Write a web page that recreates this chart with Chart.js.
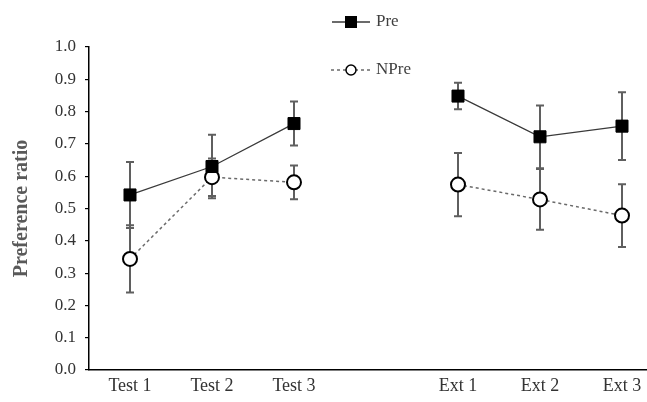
<!DOCTYPE html>
<html>
<head>
<meta charset="utf-8">
<script src="https://cdn.jsdelivr.net/npm/chart.js@4/dist/chart.umd.min.js"></script>
<style>
  html, body { margin: 0; padding: 0; background: #fff; overflow: hidden; }
  #wrap { width: 700px; height: 402px; position: relative; }
</style>
</head>
<body>
<div id="wrap"><canvas id="chart"></canvas></div>
<script>
// データ (空欄はテストと消去の間の区切り)
const categories = ['Test 1', 'Test 2', 'Test 3', '', 'Ext 1', 'Ext 2', 'Ext 3'];
const preValues = [0.542, 0.630, 0.763, null, 0.848, 0.722, 0.755];
const preErrors = [0.102, 0.098, 0.068, null, 0.041, 0.097, 0.105];
const npreValues = [0.344, 0.597, 0.581, null, 0.574, 0.528, 0.478];
const npreErrors = [0.104, 0.058, 0.052, null, 0.098, 0.094, 0.097];
const seriesNames = ['Pre', 'NPre'];

const serif = '"Liberation Serif", "Times New Roman", serif';

// エラーバー描画
const errorBars = {
    id: 'errorBars',
    beforeDatasetsDraw(chart) {
        const ctx = chart.ctx;
        const x = chart.scales.x;
        const y = chart.scales.y;
        const errs = [preErrors, npreErrors];
        ctx.save();
        ctx.strokeStyle = '#5f5f5f';
        ctx.lineWidth = 2;
        chart.data.datasets.forEach((ds, di) => {
            ds.data.forEach((v, i) => {
                if (v === null) return;
                const e = errs[di][i];
                const px = x.getPixelForValue(i);
                const top = y.getPixelForValue(v + e);
                const bot = y.getPixelForValue(v - e);
                ctx.beginPath();
                ctx.moveTo(px, top); ctx.lineTo(px, bot);
                ctx.moveTo(px - 4, top); ctx.lineTo(px + 4, top);
                ctx.moveTo(px - 4, bot); ctx.lineTo(px + 4, bot);
                ctx.stroke();
            });
        });
        ctx.restore();
    }
};

// 凡例 (上部中央、縦に2段)
const customLegend = {
    id: 'customLegend',
    afterDraw(chart) {
        const ctx = chart.ctx;
        const cx = 351;
        const rows = [22, 70];
        ctx.save();
        // Pre
        ctx.strokeStyle = '#3a3a3a';
        ctx.lineWidth = 1.3;
        ctx.beginPath();
        ctx.moveTo(cx - 19, rows[0]); ctx.lineTo(cx + 19, rows[0]);
        ctx.stroke();
        ctx.fillStyle = '#000';
        ctx.fillRect(cx - 6, rows[0] - 6, 12, 12);
        // NPre
        ctx.strokeStyle = '#6a6a6a';
        ctx.setLineDash([3, 3]);
        ctx.beginPath();
        ctx.moveTo(cx - 20, rows[1]); ctx.lineTo(cx + 20, rows[1]);
        ctx.stroke();
        ctx.setLineDash([]);
        ctx.beginPath();
        ctx.arc(cx, rows[1], 5, 0, Math.PI * 2);
        ctx.fillStyle = '#fff';
        ctx.fill();
        ctx.strokeStyle = '#000';
        ctx.lineWidth = 1.5;
        ctx.stroke();
        ctx.fillStyle = '#404040';
        ctx.font = '17px ' + serif;
        ctx.textBaseline = 'middle';
        ctx.fillText(seriesNames[0], cx + 25, rows[0]);
        ctx.fillText(seriesNames[1], cx + 25, rows[1]);
        ctx.restore();
    }
};

new Chart(document.getElementById('chart'), {
    type: 'line',
    data: {
        labels: categories,
        datasets: [{
            label: seriesNames[0],
            data: preValues,
            borderColor: '#3a3a3a',
            borderWidth: 1.3,
            pointStyle: 'rect',
            pointRadius: 8.5,
            pointBackgroundColor: '#000',
            pointBorderColor: '#000',
            pointBorderWidth: 1,
            spanGaps: false,
            tension: 0
        }, {
            label: seriesNames[1],
            data: npreValues,
            borderColor: '#6a6a6a',
            borderWidth: 1.5,
            borderDash: [3, 3],
            pointStyle: 'circle',
            pointRadius: 7,
            pointBackgroundColor: '#fff',
            pointBorderColor: '#000',
            pointBorderWidth: 2,
            spanGaps: false,
            tension: 0
        }]
    },
    options: {
        responsive: true,
        maintainAspectRatio: false,
        animation: false,
        layout: { padding: { top: 47, right: 37, left: 0, bottom: 0 } },
        plugins: {
            legend: { display: false },
            tooltip: { enabled: false }
        },
        scales: {
            x: {
                offset: true,
                grid: { display: false, drawTicks: false },
                border: { display: true, color: '#000', width: 1.5 },
                ticks: {
                    color: '#333',
                    font: { family: serif, size: 18 },
                    padding: 5,
                    maxRotation: 0,
                    autoSkip: false
                },
                afterFit(scale) { scale.height = 32; }
            },
            y: {
                min: 0,
                max: 1,
                grid: { drawOnChartArea: false, drawTicks: true, tickLength: 4, color: '#000', lineWidth: 1.2 },
                border: { display: true, color: '#000', width: 1.5 },
                ticks: {
                    stepSize: 0.1,
                    color: '#333',
                    font: { family: serif, size: 17 },
                    padding: 9,
                    callback: v => v.toFixed(1)
                },
                title: {
                    display: true,
                    text: 'Preference ratio',
                    color: '#595959',
                    font: { family: serif, size: 20, weight: 'bold' },
                    padding: { top: 10, bottom: 0 }
                },
                afterFit(scale) { scale.width = 89; }
            }
        }
    },
    plugins: [errorBars, customLegend]
});
</script>
</body>
</html>
